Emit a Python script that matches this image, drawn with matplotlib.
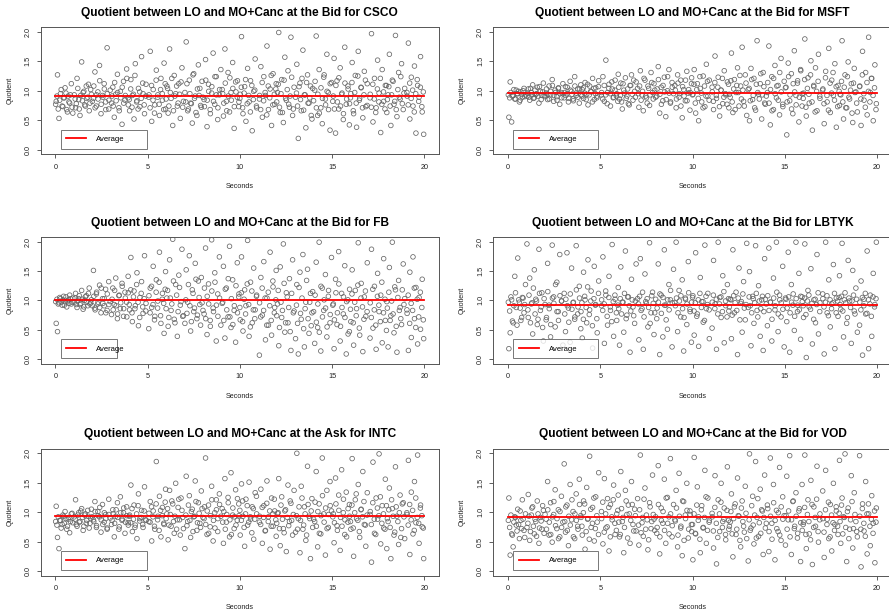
import matplotlib
matplotlib.use('Agg')
import matplotlib.pyplot as plt
from matplotlib.lines import Line2D

plt.rcParams['font.family'] = ['Liberation Sans', 'DejaVu Sans']

# two interleaved time grids shared by the six panels (seconds)
seconds = [
    0.04, 0.11, 0.19, 0.27, 0.36, 0.44, 0.52, 0.61, 0.69, 0.77, 0.86, 0.94,
    1.02, 1.09, 1.17, 1.26, 1.33, 1.42, 1.50, 1.58, 1.67, 1.75, 1.83, 1.91,
    2.06, 2.14, 2.22, 2.30, 2.39, 2.47, 2.55, 2.64, 2.72, 2.80, 2.89, 2.97,
    3.04, 3.11, 3.19, 3.27, 3.36, 3.44, 3.52, 3.61, 3.69, 3.77, 3.86, 3.94,
    4.02, 4.09, 4.17, 4.26, 4.33, 4.42, 4.50, 4.58, 4.67, 4.75, 4.83, 4.91,
    5.06, 5.14, 5.22, 5.30, 5.39, 5.47, 5.55, 5.64, 5.72, 5.80, 5.89, 5.97,
    6.04, 6.11, 6.19, 6.27, 6.36, 6.44, 6.52, 6.61, 6.69, 6.77, 6.86, 6.94,
    7.02, 7.09, 7.17, 7.26, 7.33, 7.42, 7.50, 7.58, 7.67, 7.75, 7.83, 7.91,
    8.06, 8.14, 8.22, 8.30, 8.39, 8.47, 8.55, 8.64, 8.72, 8.80, 8.89, 8.97,
    9.04, 9.11, 9.19, 9.27, 9.36, 9.44, 9.52, 9.61, 9.69, 9.77, 9.86, 9.94,
    10.02, 10.09, 10.17, 10.26, 10.33, 10.42, 10.50, 10.58, 10.67, 10.75, 10.83, 10.91,
    11.06, 11.14, 11.22, 11.30, 11.39, 11.47, 11.55, 11.64, 11.72, 11.80, 11.89, 11.97,
    12.04, 12.11, 12.19, 12.27, 12.36, 12.44, 12.52, 12.61, 12.69, 12.77, 12.86, 12.94,
    13.02, 13.09, 13.17, 13.26, 13.33, 13.42, 13.50, 13.58, 13.67, 13.75, 13.83, 13.91,
    14.06, 14.14, 14.22, 14.30, 14.39, 14.47, 14.55, 14.64, 14.72, 14.80, 14.89, 14.97,
    15.04, 15.11, 15.19, 15.27, 15.36, 15.44, 15.52, 15.61, 15.69, 15.77, 15.86, 15.94,
    16.02, 16.09, 16.17, 16.26, 16.33, 16.42, 16.50, 16.58, 16.67, 16.75, 16.83, 16.91,
    17.06, 17.14, 17.22, 17.30, 17.39, 17.47, 17.55, 17.64, 17.72, 17.80, 17.89, 17.97,
    18.04, 18.11, 18.19, 18.27, 18.36, 18.44, 18.52, 18.61, 18.69, 18.77, 18.86, 18.94,
    19.06, 19.14, 19.22, 19.30, 19.39, 19.47, 19.55, 19.64, 19.72, 19.80, 19.89, 19.97,
]

seconds2 = [
    0.01, 0.08, 0.15, 0.23, 0.31, 0.40, 0.48, 0.57, 0.65, 0.73, 0.81, 0.90,
    1.07, 1.13, 1.21, 1.29, 1.37, 1.46, 1.54, 1.62, 1.70, 1.79, 1.87, 1.95,
    2.00, 2.08, 2.15, 2.23, 2.31, 2.40, 2.48, 2.57, 2.65, 2.73, 2.81, 2.90,
    3.07, 3.13, 3.21, 3.29, 3.37, 3.46, 3.54, 3.62, 3.70, 3.79, 3.87, 3.95,
    4.00, 4.08, 4.15, 4.23, 4.31, 4.40, 4.48, 4.57, 4.65, 4.73, 4.81, 4.90,
    5.07, 5.13, 5.21, 5.29, 5.37, 5.46, 5.54, 5.62, 5.70, 5.79, 5.87, 5.95,
    6.00, 6.08, 6.15, 6.23, 6.31, 6.40, 6.48, 6.57, 6.65, 6.73, 6.81, 6.90,
    7.07, 7.13, 7.21, 7.29, 7.37, 7.46, 7.54, 7.62, 7.70, 7.79, 7.87, 7.95,
    8.00, 8.08, 8.15, 8.23, 8.31, 8.40, 8.48, 8.57, 8.65, 8.73, 8.81, 8.90,
    9.07, 9.13, 9.21, 9.29, 9.37, 9.46, 9.54, 9.62, 9.70, 9.79, 9.87, 9.95,
    10.00, 10.08, 10.15, 10.23, 10.31, 10.40, 10.48, 10.57, 10.65, 10.73, 10.81, 10.90,
    11.07, 11.13, 11.21, 11.29, 11.37, 11.46, 11.54, 11.62, 11.70, 11.79, 11.87, 11.95,
    12.00, 12.08, 12.15, 12.23, 12.31, 12.40, 12.48, 12.57, 12.65, 12.73, 12.81, 12.90,
    13.07, 13.13, 13.21, 13.29, 13.37, 13.46, 13.54, 13.62, 13.70, 13.79, 13.87, 13.95,
    14.00, 14.08, 14.15, 14.23, 14.31, 14.40, 14.48, 14.57, 14.65, 14.73, 14.81, 14.90,
    15.07, 15.13, 15.21, 15.29, 15.37, 15.46, 15.54, 15.62, 15.70, 15.79, 15.87, 15.95,
    16.00, 16.08, 16.15, 16.23, 16.31, 16.40, 16.48, 16.57, 16.65, 16.73, 16.81, 16.90,
    17.07, 17.13, 17.21, 17.29, 17.37, 17.46, 17.54, 17.62, 17.70, 17.79, 17.87, 17.95,
    18.00, 18.08, 18.15, 18.23, 18.31, 18.40, 18.48, 18.57, 18.65, 18.73, 18.81, 18.90,
    19.07, 19.13, 19.21, 19.29, 19.37, 19.46, 19.54, 19.62, 19.70, 19.79, 19.87, 19.95,
]

csco = [
    0.82, 1.27, 0.53, 0.95, 0.74, 0.88, 1.05, 0.68, 0.91, 0.79, 1.12, 0.62,
    0.93, 0.71, 1.21, 0.85, 0.58, 1.49, 0.97, 0.76, 1.08, 0.89, 0.66, 1.02,
    0.87, 1.32, 0.74, 0.98, 1.43, 0.61, 0.92, 1.12, 0.81, 1.73, 0.69, 1.01,
    0.79, 1.06, 0.55, 0.94, 1.28, 0.71, 0.99, 0.43, 1.16, 0.84, 1.37, 0.88,
    0.66, 1.19, 0.92, 0.52, 1.46, 0.83, 1.04, 0.73, 1.58, 0.95, 0.61, 1.11,
    0.89, 1.67, 0.48, 1.02, 0.76, 1.35, 0.93, 0.58, 1.21, 0.84, 1.47, 0.69,
    1.08, 0.62, 1.71, 0.87, 0.41, 1.26, 0.95, 0.74, 1.12, 0.53, 1.39, 0.82,
    0.97, 1.83, 0.66, 1.18, 0.79, 0.45, 1.29, 0.91, 0.58, 1.44, 1.04, 0.72,
    0.85, 1.53, 0.39, 1.11, 0.68, 0.96, 1.64, 0.77, 1.24, 0.51, 0.93, 1.36,
    1.02, 0.57, 1.71, 0.82, 1.31, 0.64, 0.97, 1.48, 0.36, 1.15, 0.89, 0.73,
    0.94, 1.92, 0.61, 1.07, 0.48, 1.38, 0.81, 1.17, 0.32, 0.99, 1.54, 0.71,
    0.86, 1.41, 0.55, 1.24, 0.92, 1.76, 0.68, 1.03, 0.41, 1.29, 0.77, 1.12,
    0.97, 1.99, 0.63, 1.19, 0.46, 1.57, 0.84, 1.34, 0.72, 1.91, 0.58, 1.06,
    0.89, 1.45, 0.19, 1.13, 0.66, 1.69, 0.93, 0.37, 1.27, 0.79, 1.08, 0.52,
    1.01, 1.93, 0.58, 1.36, 0.71, 0.44, 1.23, 0.86, 1.62, 0.97, 0.33, 1.14,
    0.82, 1.55, 0.28, 1.17, 0.69, 1.39, 0.94, 0.51, 1.74, 0.77, 1.08, 0.42,
    0.95, 1.48, 0.61, 1.26, 0.38, 1.67, 0.87, 1.05, 0.54, 1.33, 0.73, 1.12,
    0.88, 1.97, 0.47, 1.21, 0.71, 1.52, 0.96, 0.29, 1.36, 0.82, 1.09, 0.63,
    0.93, 1.62, 0.41, 1.18, 0.77, 1.94, 0.56, 1.31, 0.86, 1.46, 0.68, 1.04,
    0.97, 1.81, 0.52, 1.23, 0.74, 1.42, 0.28, 1.09, 0.89, 1.58, 0.64, 0.26,
]
csco2 = [
    0.77, 0.91, 0.69, 0.84, 1.02, 0.73, 0.88, 0.96, 0.64, 0.81, 0.93, 0.72,
    0.86, 0.78, 1.04, 0.69, 0.92, 0.83, 0.99, 0.74, 0.87, 1.11, 0.79, 0.94,
    0.82, 1.08, 0.71, 0.93, 0.86, 1.17, 0.77, 0.89, 1.03, 0.68, 0.95, 0.84,
    0.91, 0.74, 1.14, 0.83, 0.97, 0.66, 0.88, 1.06, 0.79, 0.92, 1.21, 0.76,
    0.85, 1.03, 0.72, 0.94, 1.26, 0.81, 0.69, 0.98, 0.87, 1.13, 0.76, 0.91,
    0.93, 0.71, 1.09, 0.84, 0.62, 1.18, 0.89, 0.77, 1.02, 0.95, 0.68, 1.12,
    0.86, 1.04, 0.74, 0.97, 1.21, 0.66, 0.91, 1.08, 0.79, 0.94, 1.15, 0.72,
    0.81, 1.12, 0.69, 0.95, 0.78, 1.27, 0.87, 0.63, 1.03, 0.92, 0.75, 1.16,
    0.89, 0.73, 1.18, 0.84, 0.99, 0.61, 1.07, 0.82, 1.24, 0.93, 0.71, 1.02,
    0.95, 0.79, 1.13, 0.66, 0.91, 1.22, 0.84, 1.04, 0.73, 0.98, 1.17, 0.81,
    0.87, 1.06, 0.71, 0.96, 1.19, 0.78, 0.92, 0.64, 1.09, 0.85, 1.01, 0.74,
    0.92, 0.68, 1.14, 0.83, 0.97, 0.59, 1.08, 0.88, 1.26, 0.76, 0.94, 1.03,
    0.81, 1.11, 0.72, 0.95, 0.63, 1.18, 0.87, 1.02, 0.77, 0.91, 1.23, 0.69,
    0.96, 0.74, 1.07, 0.85, 1.21, 0.67, 0.93, 1.14, 0.79, 0.88, 0.58, 1.04,
    0.83, 1.16, 0.71, 0.94, 0.62, 1.05, 0.87, 1.27, 0.76, 0.99, 0.68, 1.12,
    0.91, 0.69, 1.09, 0.81, 1.22, 0.74, 0.96, 0.61, 1.13, 0.86, 1.03, 0.78,
    0.88, 1.14, 0.66, 0.97, 0.79, 1.25, 0.84, 1.06, 0.71, 0.93, 1.18, 0.75,
    0.94, 0.72, 1.11, 0.86, 0.63, 1.03, 0.81, 1.21, 0.77, 0.98, 0.69, 1.09,
    0.85, 1.07, 0.74, 0.93, 1.16, 0.82, 0.68, 1.02, 0.89, 1.24, 0.78, 0.96,
    0.91, 0.76, 1.13, 0.87, 1.01, 0.64, 0.95, 1.19, 0.82, 1.06, 0.73, 0.98,
]

msft = [
    0.55, 1.15, 0.47, 0.92, 0.86, 1.01, 0.95, 0.81, 0.98, 0.89, 1.04, 0.93,
    0.91, 1.03, 0.84, 0.97, 1.10, 0.88, 0.94, 1.06, 0.79, 0.99, 0.92, 1.13,
    0.96, 0.85, 1.08, 0.93, 1.19, 0.82, 1.01, 0.90, 1.04, 0.77, 0.97, 1.12,
    0.88, 1.07, 0.95, 0.81, 1.16, 0.99, 0.86, 1.24, 0.92, 1.03, 0.79, 1.10,
    1.02, 0.87, 1.14, 0.94, 0.76, 1.08, 0.98, 1.21, 0.85, 1.05, 0.91, 1.17,
    0.93, 1.24, 0.82, 1.52, 0.97, 1.11, 0.74, 1.03, 0.89, 1.18, 0.95, 1.28,
    0.86, 1.13, 0.69, 1.01, 1.22, 0.91, 0.78, 1.09, 1.27, 0.84, 0.99, 1.15,
    1.04, 0.72, 1.34, 0.93, 0.66, 1.18, 0.88, 1.08, 0.75, 1.31, 0.97, 1.12,
    0.91, 1.41, 0.62, 1.06, 0.83, 1.23, 0.56, 1.00, 1.36, 0.79, 1.14, 0.95,
    1.09, 0.71, 1.27, 0.89, 1.18, 0.54, 1.02, 0.83, 1.33, 0.96, 0.67, 1.12,
    0.94, 1.36, 0.62, 1.12, 0.49, 1.04, 0.81, 1.25, 0.73, 1.45, 0.91, 1.18,
    1.06, 0.68, 1.59, 0.87, 1.23, 0.57, 1.01, 0.78, 1.34, 0.93, 1.15, 0.71,
    0.89, 1.64, 0.63, 1.19, 0.97, 1.39, 0.74, 1.08, 1.74, 0.82, 1.27, 0.58,
    1.02, 0.49, 1.38, 0.85, 1.21, 0.67, 1.85, 0.94, 1.12, 0.52, 1.31, 0.79,
    0.97, 1.76, 0.42, 1.24, 0.68, 1.43, 0.88, 1.09, 0.59, 1.55, 0.77, 1.16,
    1.05, 0.25, 1.47, 0.83, 1.29, 0.61, 1.68, 0.92, 1.13, 0.47, 1.36, 0.74,
    0.96, 1.88, 0.57, 1.22, 0.79, 1.51, 0.33, 1.07, 1.39, 0.66, 1.62, 0.87,
    1.01, 0.44, 1.33, 0.81, 1.72, 0.63, 1.18, 0.92, 1.46, 0.38, 1.09, 0.75,
    0.93, 1.85, 0.52, 1.27, 0.71, 1.49, 0.86, 1.12, 0.46, 1.38, 0.98, 0.64,
    1.07, 0.41, 1.67, 0.84, 1.31, 0.59, 1.91, 0.97, 1.21, 0.49, 1.44, 0.78,
]
msft2 = [
    0.93, 0.88, 0.97, 0.91, 1.02, 0.86, 0.95, 0.99, 0.84, 0.94, 1.00, 0.90,
    0.96, 0.89, 1.04, 0.93, 0.87, 1.01, 0.95, 0.91, 1.07, 0.85, 0.98, 0.92,
    0.90, 1.03, 0.94, 0.86, 0.99, 1.09, 0.92, 0.97, 0.84, 1.05, 0.95, 0.88,
    0.97, 0.92, 1.06, 0.87, 1.01, 0.94, 0.83, 1.08, 0.96, 0.89, 1.03, 0.93,
    0.91, 1.05, 0.96, 0.85, 1.11, 0.93, 0.99, 0.81, 1.04, 0.95, 0.88, 1.07,
    0.97, 0.86, 1.09, 0.93, 0.78, 1.04, 0.95, 1.15, 0.88, 1.01, 0.91, 0.82,
    1.06, 0.92, 0.81, 1.12, 0.96, 0.87, 1.03, 0.76, 1.09, 0.94, 1.18, 0.89,
    0.95, 1.08, 0.84, 0.99, 1.21, 0.91, 0.79, 1.04, 0.93, 1.14, 0.86, 1.01,
    0.89, 1.03, 1.19, 0.94, 0.77, 1.09, 0.98, 0.85, 1.24, 0.96, 0.81, 1.06,
    1.01, 0.86, 1.13, 0.95, 0.74, 1.07, 0.91, 1.18, 0.83, 1.02, 0.97, 1.22,
    0.93, 1.11, 0.79, 1.02, 0.87, 1.24, 0.96, 0.71, 1.08, 0.91, 1.16, 0.84,
    0.98, 0.82, 1.14, 0.92, 1.06, 0.73, 1.01, 1.21, 0.89, 0.95, 0.77, 1.11,
    0.94, 1.17, 0.81, 1.03, 0.68, 1.09, 0.97, 1.26, 0.86, 1.01, 0.74, 1.13,
    1.04, 0.83, 1.19, 0.92, 0.71, 1.11, 0.97, 0.86, 1.29, 0.93, 1.07, 0.77,
    0.91, 1.14, 0.79, 1.02, 0.66, 1.21, 0.95, 1.08, 0.84, 1.31, 0.98, 0.73,
    1.06, 0.81, 1.24, 0.93, 0.69, 1.12, 0.98, 0.76, 1.17, 0.89, 1.34, 0.95,
    0.87, 1.19, 0.72, 1.04, 0.94, 1.27, 0.81, 1.09, 0.64, 0.99, 1.16, 0.91,
    1.03, 0.78, 1.22, 0.92, 0.67, 1.13, 0.96, 1.31, 0.84, 1.07, 0.73, 0.99,
    0.94, 1.16, 0.81, 1.06, 0.71, 1.24, 0.89, 1.01, 0.62, 1.13, 0.97, 0.79,
    1.08, 0.86, 1.27, 0.95, 0.72, 1.14, 0.99, 0.81, 1.21, 0.92, 1.05, 0.68,
]

fb = [
    0.61, 0.47, 0.96, 1.03, 0.92, 1.07, 0.98, 0.89, 1.01, 1.09, 0.94, 1.04,
    0.97, 1.12, 0.88, 1.03, 0.93, 1.17, 0.85, 1.00, 1.08, 0.91, 1.21, 0.96,
    1.51, 0.87, 1.11, 0.94, 1.26, 0.79, 1.03, 0.91, 1.19, 0.83, 1.32, 0.98,
    0.76, 1.21, 0.93, 1.38, 0.69, 1.08, 0.86, 1.29, 0.73, 1.14, 0.97, 1.41,
    0.84, 1.73, 0.64, 1.16, 0.91, 1.47, 0.57, 1.05, 1.32, 0.78, 1.76, 0.95,
    0.52, 1.21, 0.88, 1.58, 0.73, 1.35, 0.99, 1.82, 0.61, 1.12, 0.44, 1.49,
    1.04, 0.56, 1.69, 0.83, 2.04, 0.68, 1.27, 0.39, 1.43, 0.92, 1.87, 0.74,
    0.61, 1.52, 0.97, 1.76, 0.48, 1.18, 0.81, 1.63, 0.69, 1.33, 0.93, 1.39,
    0.77, 1.89, 0.42, 1.28, 0.66, 2.03, 0.87, 1.47, 0.31, 1.11, 1.74, 0.58,
    0.95, 1.58, 0.36, 1.21, 0.72, 1.92, 0.54, 1.35, 0.83, 0.29, 1.64, 1.06,
    0.67, 1.74, 0.48, 1.18, 0.91, 2.02, 0.39, 1.31, 0.62, 1.55, 0.84, 1.09,
    0.07, 1.39, 0.75, 1.66, 0.33, 1.04, 0.58, 1.82, 0.41, 1.23, 0.88, 1.51,
    0.94, 0.23, 1.57, 0.71, 1.96, 0.46, 1.13, 0.62, 1.37, 0.15, 1.69, 0.82,
    0.35, 1.27, 0.09, 1.48, 0.68, 1.78, 0.21, 0.97, 1.53, 0.44, 1.12, 0.79,
    0.27, 1.65, 0.54, 1.99, 0.14, 1.21, 0.83, 1.44, 0.38, 1.07, 0.62, 1.73,
    0.92, 0.18, 1.36, 0.59, 1.83, 0.31, 1.12, 0.77, 1.59, 0.09, 1.01, 0.47,
    0.64, 1.52, 0.24, 1.17, 0.86, 1.98, 0.41, 1.29, 0.13, 1.06, 0.73, 1.64,
    0.36, 1.87, 0.53, 1.24, 0.17, 1.46, 0.81, 1.09, 0.28, 1.71, 0.66, 0.98,
    0.21, 1.56, 0.74, 1.99, 0.45, 1.18, 0.12, 1.34, 0.88, 0.59, 1.62, 1.03,
    0.84, 0.15, 1.48, 0.37, 1.74, 0.69, 1.22, 0.26, 1.05, 0.51, 1.36, 0.35,
]
fb2 = [
    0.98, 1.02, 0.94, 1.05, 0.97, 1.01, 0.92, 1.06, 0.99, 0.95, 1.03, 0.97,
    1.04, 0.93, 0.99, 1.08, 0.95, 1.02, 0.89, 1.06, 0.97, 1.12, 0.94, 1.01,
    0.91, 1.07, 0.84, 1.14, 0.97, 0.88, 1.21, 0.95, 1.03, 0.79, 1.11, 0.93,
    1.02, 0.84, 1.17, 0.91, 0.77, 1.09, 0.96, 1.24, 0.86, 1.04, 0.72, 1.13,
    0.93, 1.18, 0.79, 1.06, 0.86, 1.27, 0.97, 0.71, 1.12, 0.89, 1.03, 0.82,
    1.08, 0.79, 1.24, 0.93, 0.67, 1.14, 0.87, 1.31, 0.74, 1.02, 0.95, 1.19,
    0.86, 1.17, 0.71, 1.04, 0.94, 1.33, 0.62, 1.09, 0.81, 1.22, 0.98, 0.73,
    1.01, 0.78, 1.27, 0.91, 0.64, 1.12, 0.87, 1.36, 0.75, 1.05, 0.58, 0.96,
    0.83, 1.21, 0.69, 1.07, 0.94, 0.56, 1.16, 0.81, 1.31, 0.92, 0.73, 1.04,
    0.97, 0.66, 1.19, 0.84, 1.37, 0.72, 1.03, 0.59, 0.91, 1.25, 0.79, 1.11,
    0.88, 1.13, 0.64, 1.02, 0.77, 1.28, 0.93, 0.55, 1.16, 0.84, 0.69, 1.07,
    0.96, 0.72, 1.21, 0.83, 1.04, 0.58, 1.14, 0.91, 0.66, 1.33, 0.79, 1.01,
    0.74, 1.17, 0.54, 0.97, 0.83, 1.29, 0.62, 1.06, 0.88, 0.47, 1.12, 0.79,
    0.92, 0.61, 1.22, 0.78, 1.04, 0.52, 0.86, 1.34, 0.69, 0.97, 0.57, 1.15,
    0.81, 1.09, 0.63, 0.94, 0.46, 1.24, 0.72, 1.01, 0.87, 0.55, 1.17, 0.76,
    0.94, 0.67, 1.13, 0.79, 1.28, 0.56, 0.88, 1.06, 0.71, 0.98, 0.43, 1.19,
    0.85, 1.11, 0.62, 0.97, 0.74, 1.26, 0.53, 1.04, 0.89, 0.68, 1.16, 0.81,
    0.96, 0.71, 1.19, 0.84, 0.58, 1.07, 0.92, 0.64, 1.31, 0.79, 1.02, 0.49,
    0.87, 1.14, 0.66, 0.99, 0.77, 1.23, 0.56, 1.05, 0.83, 0.69, 1.18, 0.93,
    0.78, 1.09, 0.61, 0.95, 0.83, 1.21, 0.54, 1.02, 0.72, 1.14, 0.88, 0.67,
]

lbtyk = [
    0.18, 0.45, 1.01, 0.62, 1.41, 0.88, 1.72, 0.97, 0.66, 1.05, 0.79, 1.27,
    1.96, 0.71, 1.38, 0.94, 0.43, 1.52, 1.02, 0.59, 1.87, 0.83, 1.13, 0.31,
    0.67, 1.63, 0.92, 0.38, 1.94, 1.06, 0.55, 1.31, 0.81, 1.78, 0.99, 0.24,
    1.12, 0.47, 1.81, 0.87, 0.29, 1.55, 0.96, 0.68, 1.93, 0.77, 1.24, 0.52,
    0.36, 1.48, 1.01, 0.62, 1.69, 0.84, 1.16, 0.19, 1.58, 0.93, 0.45, 1.33,
    0.91, 1.74, 0.27, 1.09, 0.58, 1.41, 0.83, 1.95, 0.39, 1.02, 0.66, 1.22,
    0.24, 1.57, 0.97, 0.46, 1.84, 0.75, 1.06, 0.12, 1.36, 0.89, 0.61, 1.62,
    1.03, 0.33, 1.71, 0.86, 0.17, 1.45, 0.95, 0.55, 1.98, 0.79, 1.14, 0.42,
    0.69, 1.62, 0.08, 1.09, 0.38, 1.86, 0.92, 0.51, 1.27, 1.01, 0.21, 1.53,
    0.96, 1.99, 0.47, 1.17, 0.72, 1.35, 0.14, 1.04, 0.59, 1.66, 0.85, 0.29,
    1.08, 0.41, 1.81, 0.77, 0.22, 1.39, 0.98, 0.63, 1.94, 0.86, 1.12, 0.35,
    0.53, 1.68, 0.94, 0.17, 1.99, 1.05, 0.71, 1.42, 0.28, 0.91, 1.27, 0.82,
    1.02, 0.35, 1.86, 0.79, 1.14, 0.08, 1.55, 0.95, 0.46, 1.32, 0.67, 1.97,
    0.88, 1.49, 0.23, 1.07, 0.61, 1.93, 0.83, 1.25, 0.39, 1.01, 0.15, 1.71,
    0.57, 1.89, 0.97, 0.31, 1.38, 0.84, 1.99, 0.47, 1.09, 0.72, 1.58, 0.21,
    1.04, 0.64, 1.82, 0.12, 1.27, 0.92, 0.49, 1.99, 0.81, 1.46, 0.34, 1.06,
    0.71, 1.96, 0.03, 1.17, 0.89, 1.54, 0.26, 1.01, 0.62, 1.78, 0.43, 0.96,
    1.11, 0.09, 1.99, 0.79, 1.35, 0.55, 0.94, 1.61, 0.18, 1.04, 0.73, 1.42,
    0.85, 1.97, 0.38, 1.13, 0.61, 1.68, 0.99, 0.27, 1.51, 0.82, 1.21, 0.46,
    0.58, 1.33, 0.07, 1.02, 0.77, 1.84, 0.18, 1.09, 0.39, 1.46, 0.93, 1.99,
]
lbtyk2 = [
    0.97, 0.82, 1.06, 0.65, 0.91, 1.13, 0.58, 1.01, 0.87, 0.71, 1.04, 0.93,
    0.84, 1.09, 0.62, 0.96, 1.21, 0.77, 0.99, 0.68, 1.12, 0.89, 0.54, 1.03,
    0.93, 0.71, 1.15, 0.86, 0.59, 1.04, 0.95, 1.27, 0.81, 0.66, 1.08, 0.99,
    0.77, 1.02, 0.91, 0.63, 1.11, 0.85, 0.97, 0.72, 1.18, 0.89, 1.04, 0.81,
    0.96, 0.68, 1.07, 0.88, 1.23, 0.76, 0.99, 0.57, 1.03, 0.92, 0.69, 1.12,
    1.01, 0.83, 0.94, 1.16, 0.73, 1.05, 0.89, 0.64, 0.98, 1.09, 0.79, 0.92,
    0.86, 1.03, 0.77, 0.97, 1.12, 0.69, 1.06, 0.91, 0.82, 1.01, 0.74, 0.99,
    0.94, 1.07, 0.83, 1.14, 0.72, 0.98, 1.03, 0.88, 0.61, 1.08, 0.95, 0.79,
    1.02, 0.87, 0.97, 1.11, 0.78, 1.05, 0.92, 0.67, 1.01, 0.84, 1.17, 0.96,
    0.91, 1.04, 0.79, 0.99, 1.08, 0.86, 0.71, 1.02, 0.94, 1.13, 0.81, 0.97,
    1.05, 0.82, 0.96, 0.73, 1.01, 1.12, 0.88, 0.98, 0.66, 1.07, 0.93, 0.84,
    0.97, 1.09, 0.86, 1.02, 0.77, 0.94, 1.06, 0.81, 1.15, 0.99, 0.72, 1.03,
    0.89, 1.01, 0.75, 1.08, 0.96, 0.83, 1.04, 0.67, 0.98, 1.11, 0.87, 0.93,
    1.06, 0.91, 0.79, 1.03, 0.96, 1.12, 0.72, 0.99, 0.86, 1.07, 0.81, 1.02,
    0.94, 1.08, 0.83, 0.97, 0.68, 1.04, 0.91, 1.14, 0.77, 1.01, 0.96, 0.85,
    1.02, 0.87, 1.06, 0.79, 0.97, 1.11, 0.73, 1.03, 0.92, 0.84, 1.07, 0.98,
    0.91, 1.04, 0.76, 0.99, 1.09, 0.85, 0.95, 0.68, 1.02, 0.93, 1.13, 0.81,
    1.03, 0.89, 0.97, 1.08, 0.74, 1.01, 0.86, 0.96, 1.12, 0.79, 0.99, 1.05,
    0.93, 1.07, 0.82, 1.01, 0.96, 0.71, 1.04, 0.88, 0.99, 1.09, 0.77, 1.02,
    0.97, 0.84, 1.05, 0.91, 1.12, 0.78, 1.01, 0.94, 0.73, 1.06, 0.89, 1.03,
]

intc = [
    1.10, 0.57, 0.38, 0.86, 0.79, 0.93, 1.01, 0.71, 0.88, 0.65, 0.97, 0.82,
    0.92, 1.21, 0.76, 0.99, 0.84, 1.06, 0.69, 0.95, 0.81, 1.03, 0.73, 0.89,
    0.87, 1.18, 0.74, 1.01, 0.92, 0.66, 1.13, 0.83, 0.96, 0.71, 1.22, 0.90,
    0.79, 1.04, 0.58, 0.93, 1.16, 0.71, 1.26, 0.86, 0.99, 0.64, 1.09, 0.82,
    0.95, 1.46, 0.67, 1.12, 0.78, 0.55, 1.31, 0.89, 1.03, 0.74, 1.43, 0.86,
    0.84, 1.18, 0.51, 1.02, 0.71, 1.86, 0.93, 1.27, 0.58, 1.08, 0.79, 1.39,
    0.97, 0.53, 1.37, 0.76, 1.14, 0.64, 1.49, 0.87, 1.22, 0.61, 1.03, 0.72,
    0.38, 1.61, 0.84, 1.28, 0.57, 1.05, 0.92, 1.53, 0.69, 1.16, 0.81, 1.36,
    0.89, 1.92, 0.62, 1.12, 0.75, 1.44, 0.51, 0.99, 1.21, 0.67, 1.31, 0.93,
    1.06, 0.47, 1.57, 0.83, 1.25, 0.58, 1.67, 0.95, 0.72, 1.38, 0.86, 1.14,
    0.61, 1.48, 0.93, 0.42, 1.22, 0.78, 1.51, 0.88, 1.09, 0.54, 1.33, 0.97,
    0.83, 1.39, 0.47, 1.11, 0.69, 1.53, 0.92, 0.37, 1.24, 0.76, 1.02, 0.59,
    0.98, 1.57, 0.43, 1.26, 0.72, 1.02, 0.33, 1.46, 0.84, 1.15, 0.61, 1.37,
    0.66, 2.00, 0.89, 0.31, 1.44, 0.71, 1.09, 0.52, 1.78, 0.93, 0.21, 1.23,
    0.84, 1.69, 0.41, 1.14, 0.63, 1.92, 0.97, 0.27, 1.37, 0.74, 1.52, 1.02,
    0.92, 0.48, 1.58, 0.77, 1.29, 0.35, 1.72, 0.99, 0.62, 1.34, 0.83, 1.13,
    0.71, 1.91, 0.25, 1.21, 0.89, 1.47, 0.57, 1.05, 1.69, 0.79, 0.42, 1.33,
    0.96, 0.15, 1.85, 0.64, 1.24, 0.88, 1.99, 0.46, 1.11, 0.73, 1.56, 0.38,
    0.84, 1.41, 0.21, 1.06, 0.61, 1.77, 0.93, 0.45, 1.29, 0.72, 1.16, 0.55,
    0.99, 1.88, 0.28, 1.34, 0.63, 1.52, 0.82, 1.97, 0.47, 1.12, 0.75, 0.21,
]
intc2 = [
    0.84, 0.78, 0.92, 0.86, 0.73, 0.95, 0.81, 0.89, 0.76, 0.91, 0.84, 0.98,
    0.88, 0.79, 0.95, 0.83, 1.02, 0.91, 0.76, 0.97, 0.86, 0.93, 0.81, 1.05,
    0.92, 0.84, 1.01, 0.77, 0.94, 1.08, 0.87, 0.79, 0.99, 0.89, 0.73, 0.96,
    0.86, 0.97, 0.81, 1.04, 0.91, 0.75, 0.99, 0.88, 1.07, 0.83, 0.94, 0.78,
    0.93, 0.82, 1.06, 0.88, 0.74, 0.97, 1.11, 0.85, 0.91, 0.79, 1.02, 0.87,
    0.98, 0.83, 1.09, 0.92, 0.76, 1.14, 0.87, 0.69, 1.03, 0.94, 0.81, 1.17,
    0.89, 1.06, 0.78, 0.96, 1.19, 0.84, 0.93, 0.71, 1.08, 0.87, 1.24, 0.91,
    0.95, 0.77, 1.12, 0.86, 1.01, 0.67, 0.93, 1.18, 0.82, 0.98, 0.74, 1.06,
    0.91, 1.09, 0.79, 1.02, 0.64, 0.94, 1.21, 0.86, 0.73, 1.04, 0.89, 1.13,
    0.83, 1.01, 0.71, 0.96, 1.16, 0.87, 0.62, 1.07, 0.92, 0.78, 1.23, 0.94,
    1.03, 0.86, 1.19, 0.74, 0.97, 1.11, 0.83, 0.92, 0.65, 1.06, 0.88, 1.27,
    0.93, 0.79, 1.08, 0.91, 0.68, 1.15, 0.84, 1.02, 0.76, 0.97, 1.22, 0.87,
    0.81, 0.99, 0.72, 1.12, 0.88, 0.65, 1.04, 0.91, 0.77, 1.19, 0.86, 0.96,
    0.94, 0.71, 1.09, 0.86, 1.24, 0.78, 0.97, 0.61, 1.13, 0.89, 1.02, 0.74,
    0.88, 1.17, 0.76, 1.01, 0.64, 0.94, 1.28, 0.83, 1.07, 0.72, 0.96, 1.11,
    0.97, 0.82, 1.14, 0.69, 1.03, 0.91, 0.76, 1.22, 0.87, 0.58, 1.06, 0.93,
    0.84, 1.12, 0.73, 0.99, 1.31, 0.86, 0.67, 1.04, 0.92, 1.18, 0.78, 0.95,
    1.01, 0.79, 1.16, 0.88, 0.62, 1.07, 0.94, 1.26, 0.81, 0.97, 0.71, 1.11,
    0.89, 1.04, 0.74, 1.21, 0.93, 0.66, 1.09, 0.84, 0.99, 0.57, 1.14, 0.92,
    0.96, 0.78, 1.13, 0.87, 1.03, 0.69, 1.24, 0.91, 0.81, 1.07, 0.94, 0.73,
]

vod = [
    1.24, 0.27, 0.63, 0.41, 0.92, 0.78, 1.05, 0.55, 0.86, 1.21, 0.69, 0.97,
    0.74, 1.30, 0.52, 0.95, 1.09, 0.63, 0.84, 1.19, 0.47, 0.91, 0.71, 1.03,
    0.88, 1.52, 0.61, 1.16, 0.49, 0.96, 1.38, 0.72, 1.04, 0.58, 1.27, 0.83,
    1.82, 0.66, 1.12, 0.43, 1.47, 0.87, 1.01, 0.55, 1.31, 0.76, 1.56, 0.94,
    0.61, 1.19, 0.37, 1.42, 0.89, 1.95, 0.74, 1.08, 0.51, 1.26, 0.83, 1.67,
    1.01, 0.46, 1.57, 0.73, 1.23, 0.34, 1.13, 0.87, 1.46, 0.62, 0.97, 1.29,
    0.58, 1.69, 0.84, 0.31, 1.37, 0.96, 1.12, 0.47, 1.52, 0.79, 1.05, 0.68,
    1.23, 0.44, 1.97, 0.82, 0.59, 1.41, 0.95, 0.36, 1.16, 0.72, 1.63, 0.88,
    0.64, 1.79, 0.29, 1.07, 0.81, 1.56, 0.47, 1.25, 0.92, 1.91, 0.58, 1.13,
    0.87, 1.37, 0.41, 1.66, 0.73, 0.26, 1.18, 0.95, 1.49, 0.56, 1.02, 0.79,
    0.19, 1.93, 0.63, 1.43, 0.92, 0.31, 1.11, 0.74, 1.71, 0.47, 1.24, 0.86,
    0.98, 0.39, 1.62, 0.12, 1.21, 0.67, 1.49, 0.84, 1.07, 0.53, 1.77, 0.71,
    0.83, 1.31, 0.24, 1.09, 0.62, 1.58, 0.93, 0.41, 1.19, 0.76, 1.44, 0.55,
    0.17, 1.99, 0.73, 1.27, 0.46, 1.86, 0.91, 0.59, 1.39, 1.04, 0.28, 1.63,
    1.12, 0.33, 1.92, 0.81, 1.47, 0.19, 1.03, 0.67, 1.76, 0.52, 1.26, 0.94,
    0.44, 1.61, 0.87, 1.96, 0.28, 1.18, 0.72, 1.33, 0.56, 1.02, 0.16, 1.47,
    0.83, 1.97, 0.38, 1.21, 0.63, 1.54, 0.11, 1.09, 0.76, 1.78, 0.49, 0.97,
    1.36, 0.23, 1.71, 0.88, 0.55, 1.13, 0.34, 1.49, 0.79, 1.02, 0.62, 1.88,
    0.47, 1.24, 0.92, 1.99, 0.16, 1.07, 0.71, 1.62, 0.39, 1.33, 0.84, 0.58,
    1.96, 0.07, 1.14, 0.68, 1.52, 0.29, 0.97, 0.43, 1.28, 0.81, 0.14, 1.07,
]
vod2 = [
    0.86, 0.74, 0.95, 0.61, 0.83, 0.91, 0.68, 0.79, 1.02, 0.72, 0.88, 0.57,
    0.81, 0.93, 0.67, 1.07, 0.76, 0.88, 0.59, 0.97, 0.73, 0.85, 1.11, 0.64,
    0.96, 0.71, 1.04, 0.83, 0.62, 0.92, 1.18, 0.77, 0.89, 0.55, 1.01, 0.74,
    0.84, 1.09, 0.69, 0.93, 0.78, 1.21, 0.58, 0.97, 0.86, 0.71, 1.13, 0.91,
    0.76, 0.99, 1.14, 0.67, 0.88, 0.54, 1.05, 0.81, 1.24, 0.72, 0.94, 0.62,
    0.89, 1.17, 0.66, 0.97, 0.75, 1.08, 0.58, 0.92, 1.21, 0.81, 0.69, 1.03,
    0.83, 0.62, 1.06, 0.91, 0.74, 1.19, 0.56, 0.97, 0.86, 1.13, 0.68, 0.94,
    0.78, 1.04, 0.65, 0.91, 1.22, 0.71, 0.87, 0.53, 1.09, 0.84, 0.96, 0.69,
    0.92, 0.74, 1.13, 0.58, 0.86, 1.01, 0.69, 1.24, 0.81, 0.63, 0.97, 0.77,
    0.85, 1.07, 0.61, 0.93, 0.76, 1.19, 0.52, 0.89, 1.03, 0.71, 0.96, 0.67,
    0.79, 0.97, 0.64, 1.12, 0.86, 0.54, 1.04, 0.73, 0.91, 1.26, 0.69, 0.83,
    0.92, 0.68, 1.08, 0.81, 0.57, 0.97, 1.17, 0.74, 0.88, 0.62, 1.03, 0.86,
    0.76, 1.01, 0.63, 0.89, 1.14, 0.71, 0.94, 0.52, 1.07, 0.84, 0.66, 0.98,
    0.87, 0.69, 1.11, 0.78, 0.95, 0.56, 1.23, 0.82, 0.64, 1.02, 0.91, 0.73,
    0.81, 1.06, 0.67, 0.93, 0.54, 1.16, 0.86, 0.72, 0.99, 0.61, 1.09, 0.88,
    0.94, 0.71, 1.02, 0.58, 0.87, 1.19, 0.76, 0.93, 0.64, 1.06, 0.82, 0.69,
    0.79, 1.08, 0.62, 0.96, 0.84, 0.53, 1.13, 0.74, 0.91, 1.22, 0.67, 0.87,
    0.89, 0.66, 1.04, 0.79, 1.17, 0.58, 0.95, 0.82, 0.69, 1.09, 0.76, 0.98,
    0.84, 1.12, 0.63, 0.91, 0.74, 1.01, 0.55, 0.87, 1.18, 0.72, 0.96, 0.67,
    0.93, 0.71, 1.06, 0.81, 0.59, 0.97, 1.14, 0.76, 0.88, 0.64, 1.02, 0.83,
]

tickers = ['CSCO', 'MSFT', 'FB', 'LBTYK', 'INTC', 'VOD']
sides = ['Bid', 'Bid', 'Bid', 'Bid', 'Ask', 'Bid']
quotients = [csco, msft, fb, lbtyk, intc, vod]
quotients2 = [csco2, msft2, fb2, lbtyk2, intc2, vod2]
averages = [0.905, 0.97, 1.0, 0.92, 0.926, 0.915]

# axes placement (figure fractions)
col_left = [0.0458, 0.555]
col_width = 0.448
row_bottom = [0.7487, 0.4072, 0.0624]
row_height = 0.207
leg_width = [0.216, 0.212, 0.141, 0.212, 0.216, 0.212]

fig = plt.figure(figsize=(8.89, 6.14), dpi=100)

for i, (tk, side, q, q2, avg) in enumerate(zip(tickers, sides, quotients, quotients2, averages)):
    r, c = divmod(i, 2)
    ax = fig.add_axes([col_left[c], row_bottom[r], col_width, row_height])
    for t, qq in ((seconds, q), (seconds2, q2)):
        ax.scatter(t, qq, s=11, facecolors='none', edgecolors='#666666',
                   linewidths=0.55, zorder=2)
    ax.plot([0, 20], [avg, avg], color='red', lw=1.3, zorder=3)

    ax.set_xlim(-0.8, 20.8)
    ax.set_ylim(-0.08, 2.08)
    ax.set_xticks([0, 5, 10, 15, 20])
    ax.set_yticks([0.0, 0.5, 1.0, 1.5, 2.0])
    ax.set_yticklabels(['0.0', '0.5', '1.0', '1.5', '2.0'], rotation=90, va='center')
    ax.tick_params(labelsize=5.2, length=3.2, width=0.6, colors='#444', labelcolor='#222', pad=3.5)
    for sp in ax.spines.values():
        sp.set_color('#555')
        sp.set_linewidth(0.7)

    ax.set_title(f'Quotient between LO and MO+Canc at the {side} for {tk}',
                 fontsize=8.6, fontweight='bold', pad=8)
    ax.set_xlabel('Seconds', fontsize=5.2, labelpad=9, color='#222')
    ax.set_ylabel('Quotient', fontsize=5.2, labelpad=8, color='#222')

    h = [Line2D([0], [0], color='red', lw=1.3)]
    leg = ax.legend(h, ['Average'], loc='lower left',
                    bbox_to_anchor=(0.05, 0.045, leg_width[i], 0.15), mode='expand',
                    fontsize=5.5, frameon=True, fancybox=False, borderpad=0.75,
                    handlelength=2.6, handletextpad=1.3, borderaxespad=0)
    leg.get_frame().set_edgecolor('#555')
    leg.get_frame().set_linewidth(0.7)

fig.savefig('out.png')
